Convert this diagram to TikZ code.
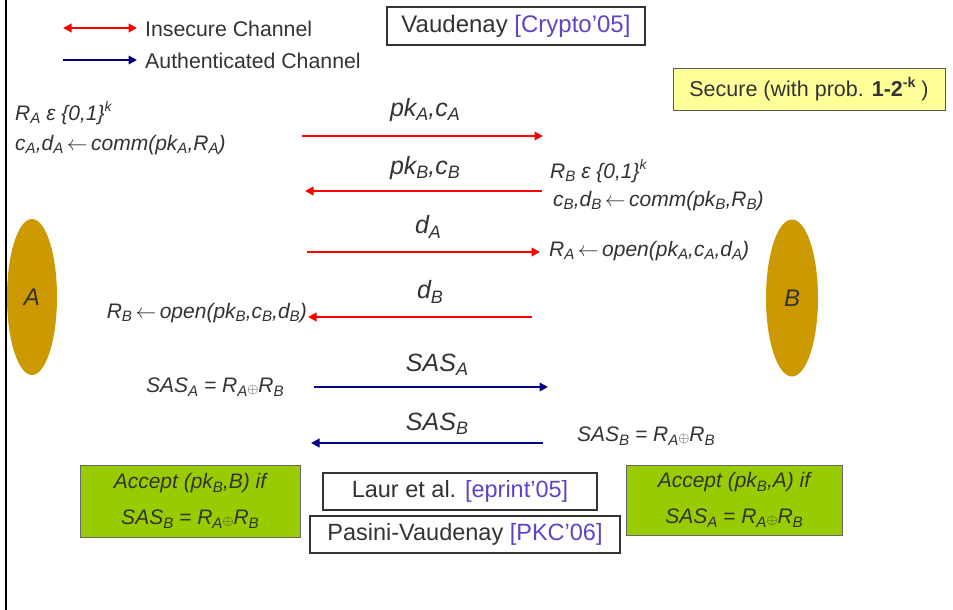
\documentclass[tikz,border=0pt]{standalone}
\usepackage{fontspec}
\setmainfont{Liberation Sans}
\usetikzlibrary{arrows.meta,shapes.geometric}
\definecolor{txt}{HTML}{333333}
\definecolor{ired}{HTML}{FF0000}
\definecolor{anavy}{HTML}{000080}
\definecolor{citec}{HTML}{5A46C8}
\definecolor{gold}{HTML}{CC9900}
\definecolor{lgreen}{HTML}{99CC00}
\definecolor{lyellow}{HTML}{FFFF99}
\newcommand{\dn}[1]{\raisebox{-0.32ex}{\scalebox{0.72}{#1}}}
\newcommand{\upp}[1]{\raisebox{0.8ex}{\scalebox{0.66}{#1}}}
\newcommand{\xo}{\raisebox{-0.1ex}{\scalebox{0.68}{$\oplus$}}}
\newcommand{\lar}{\,$\leftarrow$\,}
\tikzset{
  tip/.tip={Triangle[length=8.5pt,width=8.5pt]},
  redarr/.style={draw=ired,line width=2.7pt},
  bluarr/.style={draw=anavy,line width=2.7pt},
  lbl/.style={font=\fontsize{25}{29}\selectfont\itshape,text=txt,inner sep=0pt},
  ann/.style={font=\fontsize{21}{25}\selectfont\itshape,text=txt,inner sep=0pt},
  legtext/.style={font=\fontsize{21.3}{25}\selectfont,text=txt,inner sep=0pt,anchor=west},
  refbox/.style={draw=txt,line width=1.4pt,fill=white,font=\fontsize{23.5}{27}\selectfont,text=txt,inner sep=0pt},
  greenbox/.style={draw=gray!80!black,line width=0.8pt,fill=lgreen,font=\fontsize{21}{25}\selectfont\itshape,text=txt,align=center,inner sep=0pt},
  party/.style={ellipse,fill=gold,inner sep=0pt,font=\fontsize{24}{28}\selectfont\itshape,text=txt}
}
\begin{document}
\begin{tikzpicture}[x=1pt,y=-1pt]
\useasboundingbox (0,0) rectangle (953,610);
% parties
\node[party,minimum width=50,minimum height=156] (A) at (32,297) {A};
\node[party,minimum width=52,minimum height=157] (B) at (792,298) {B};
\draw[black,line width=2.5pt] (6,0) -- (6,610);
% legend
\coordinate (l1a) at (63,28); \coordinate (l1b) at (137,28);
\draw[redarr,line width=2.4pt,tip-tip] (l1a) -- (l1b);
\node[legtext] (leg1) at (145,29) {Insecure Channel};
\coordinate (l2a) at (63,60); \coordinate (l2b) at (137,60);
\draw[bluarr,line width=2.4pt,-tip] (l2a) -- (l2b);
\node[legtext] (leg2) at (145,61) {Authenticated Channel};
% title
\node[refbox,minimum width=258,minimum height=38,font=\fontsize{24}{28}\selectfont] (vau) at (516,26) {Vaudenay \textcolor{citec}{[Crypto’05]}};
\node[draw=gray!70!black,line width=0.8pt,fill=lyellow,minimum width=272,minimum height=42,inner sep=0pt,font=\fontsize{21.5}{25}\selectfont,text=txt] (sec) at (809,89) {Secure (with prob. \textbf{1-2\upp{-k}} )};
% annotations left
\node[ann,anchor=west] (ra) at (15,113) {R\dn{A} ε \{0,1\}\upp{k}};
\node[ann,anchor=west] (ca) at (15,145) {c\dn{A},d\dn{A}\lar comm(pk\dn{A},R\dn{A})};
% annotations right
\node[ann,anchor=west] (rb) at (550,171) {R\dn{B} ε \{0,1\}\upp{k}};
\node[ann,anchor=west] (cb) at (553,201) {c\dn{B},d\dn{B}\lar comm(pk\dn{B},R\dn{B})};
\node[ann,anchor=west] (oa) at (549,251) {R\dn{A}\lar open(pk\dn{A},c\dn{A},d\dn{A})};
\node[ann,anchor=east] (ob) at (307,313) {R\dn{B}\lar open(pk\dn{B},c\dn{B},d\dn{B})};
\node[ann,anchor=west] (sa) at (146,387) {SAS\dn{A} = R\dn{A}\xo R\dn{B}};
\node[ann,anchor=west] (sb) at (577,436) {SAS\dn{B} = R\dn{A}\xo R\dn{B}};
% messages
\coordinate (m1a) at (302,136); \coordinate (m1b) at (543,136);
\draw[redarr,-tip] (m1a) -- (m1b);
\node[lbl] (t1) at (425,110) {pk\dn{A},c\dn{A}};
\coordinate (m2a) at (542,191); \coordinate (m2b) at (305,191);
\draw[redarr,-tip] (m2a) -- (m2b);
\node[lbl] (t2) at (425,168) {pk\dn{B},c\dn{B}};
\coordinate (m3a) at (307,252); \coordinate (m3b) at (540,252);
\draw[redarr,-tip] (m3a) -- (m3b);
\node[lbl] (t3) at (428,227) {d\dn{A}};
\coordinate (m4a) at (532,317); \coordinate (m4b) at (308,317);
\draw[redarr,-tip] (m4a) -- (m4b);
\node[lbl] (t4) at (430,292) {d\dn{B}};
\coordinate (m5a) at (314,387); \coordinate (m5b) at (548,387);
\draw[bluarr,-tip] (m5a) -- (m5b);
\node[lbl] (t5) at (437,365) {SAS\dn{A}};
\coordinate (m6a) at (543,443); \coordinate (m6b) at (311,443);
\draw[bluarr,-tip] (m6a) -- (m6b);
\node[lbl] (t6) at (437,424) {SAS\dn{B}};
% decisions
\node[greenbox,minimum width=220,minimum height=72] (accA) at (190,501) {Accept (pk\dn{B},B) if\\[11pt] SAS\dn{B} = R\dn{A}\xo R\dn{B}};
\node[greenbox,minimum width=216,minimum height=70] (accB) at (734,500) {Accept (pk\dn{B},A) if\\[11pt] SAS\dn{A} = R\dn{A}\xo R\dn{B}};
% references
\node[refbox,minimum width=274,minimum height=37] (laur) at (460,491.5) {Laur et al. \textcolor{citec}{[eprint’05]}};
\node[refbox,minimum width=310,minimum height=37] (pv) at (465,534.5) {Pasini-Vaudenay \textcolor{citec}{[PKC’06]}};
\end{tikzpicture}
\end{document}
